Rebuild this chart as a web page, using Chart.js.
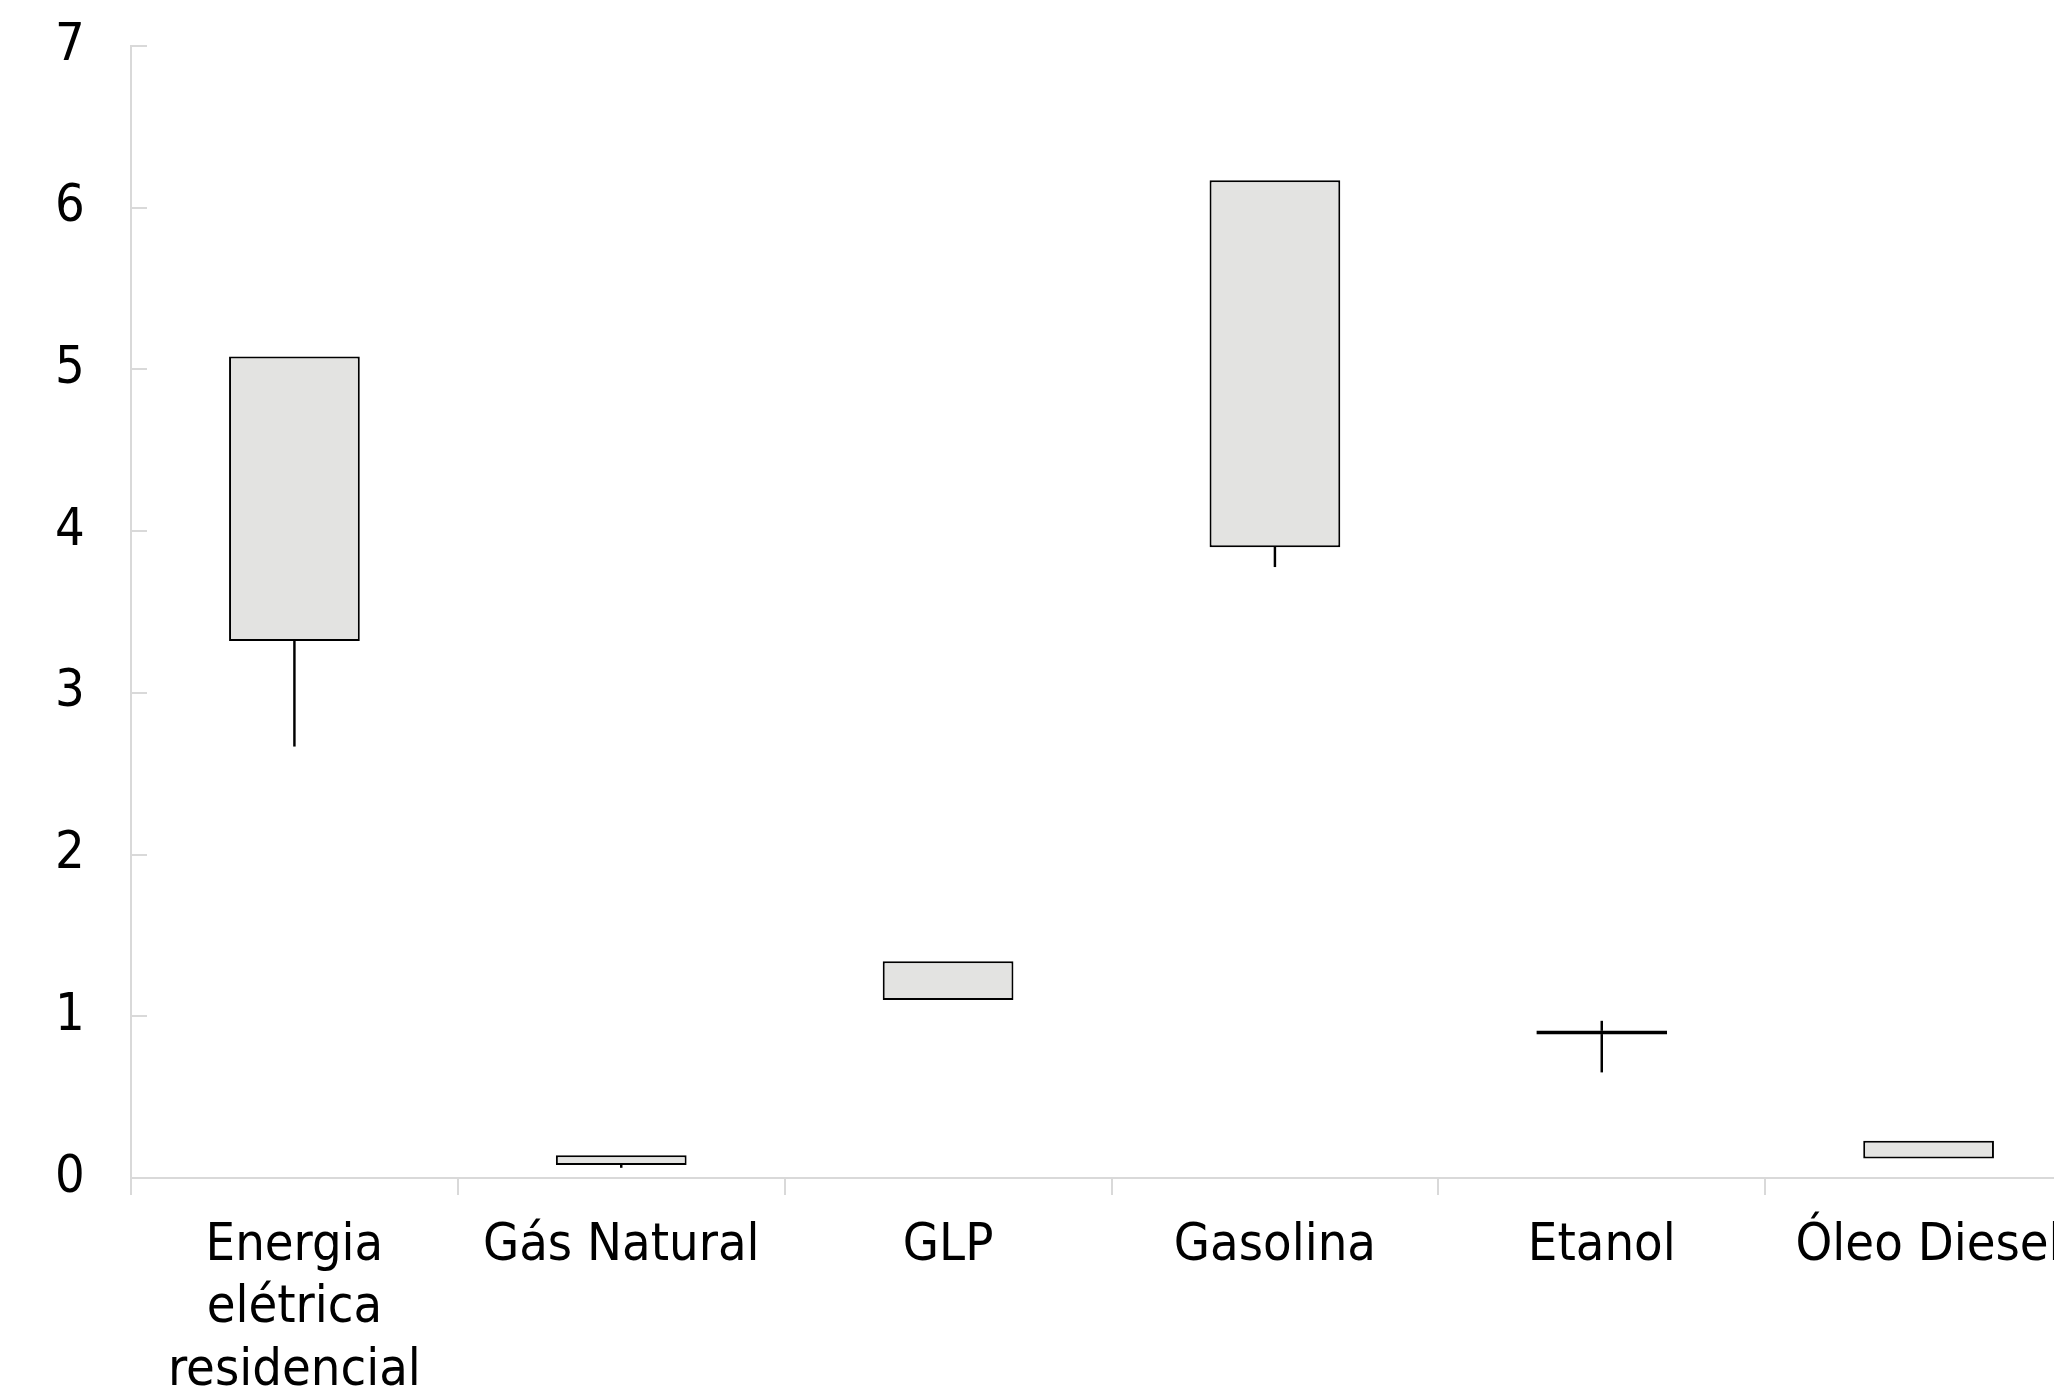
<!DOCTYPE html>
<html>
<head>
<meta charset="utf-8">
<script src="https://cdn.jsdelivr.net/npm/chart.js@4.4.0/dist/chart.umd.min.js"></script>
<style>
  html, body { margin: 0; padding: 0; background: #fff; overflow: hidden; }
  #wrap { width: 2092px; height: 1388px; }
</style>
</head>
<body>
<div id="wrap"><canvas id="myChart"></canvas></div>
<script>
// categories and ranges
const categories = [["Energia", "elétrica", "residencial"], "Gás Natural", "GLP", "Gasolina", "Etanol", "Óleo Diesel"];
const boxLow = [3.32, 0.08, 1.10, 3.90, 0.888, 0.12];
const boxHigh = [5.08, 0.14, 1.34, 6.17, 0.912, 0.23];
const minValue = [2.67, 0.065, 1.10, 3.78, 0.655, 0.12];
const maxValue = [5.08, 0.14, 1.34, 6.17, 0.97, 0.23];
const yTicks = [0, 1, 2, 3, 4, 5, 6, 7];

const labelFont = {
  family: "'DejaVu Sans Condensed', 'Liberation Sans Narrow', 'DejaVu Sans', sans-serif",
  size: 52,
  lineHeight: 1.2,
};

let boxes = boxLow.map((v, i) => [v, boxHigh[i]]);
// whisker pieces only where they stick out of the box
let lowerWhiskers = minValue.map((v, i) => (v < boxLow[i] ? [v, boxLow[i]] : null));
let upperWhiskers = maxValue.map((v, i) => (v > boxHigh[i] ? [boxHigh[i], v] : null));

let whiskerStyle = {
  backgroundColor: "#000000",
  borderWidth: 0,
  barThickness: 1.8,
  grouped: false,
  order: 1,
};

let ctx = document.getElementById("myChart").getContext("2d");
const myChart = new Chart(ctx, {
  type: "bar",
  data: {
    labels: categories,
    datasets: [
      {
        label: "box",
        data: boxes,
        backgroundColor: "#e3e3e1",
        borderColor: "#000000",
        borderWidth: 2,
        borderSkipped: false,
        barPercentage: 0.4,
        categoryPercentage: 1,
        grouped: false,
        order: 0,
      },
      Object.assign({ label: "min", data: lowerWhiskers }, whiskerStyle),
      Object.assign({ label: "max", data: upperWhiskers }, whiskerStyle),
    ],
  },
  options: {
    responsive: true,
    maintainAspectRatio: false,
    animation: false,
    layout: { padding: { top: 46, right: 0, bottom: 0, left: 55 } },
    plugins: {
      legend: { display: false },
      tooltip: { enabled: false },
    },
    scales: {
      x: {
        offset: true,
        grid: {
          display: true,
          offset: true,
          drawOnChartArea: false,
          drawTicks: true,
          tickLength: 17,
          color: "#d9d9d9",
          lineWidth: 2,
        },
        border: { display: true, color: "#d9d9d9", width: 2 },
        ticks: {
          color: "#000000",
          font: labelFont,
          padding: 20,
          maxRotation: 0,
          autoSkip: false,
        },
        afterFit: (scale) => {
          scale.height = 210;
        },
      },
      y: {
        min: yTicks[0],
        max: yTicks[yTicks.length - 1],
        grid: {
          display: true,
          drawOnChartArea: false,
          drawTicks: true,
          tickLength: -16,
          color: "#d9d9d9",
          lineWidth: 2,
        },
        border: { display: true, color: "#d9d9d9", width: 2 },
        ticks: {
          stepSize: 1,
          color: "#000000",
          font: labelFont,
          padding: 0,
          crossAlign: "far",
        },
        afterFit: (scale) => {
          scale.width = 76;
        },
      },
    },
  },
});
</script>
</body>
</html>
